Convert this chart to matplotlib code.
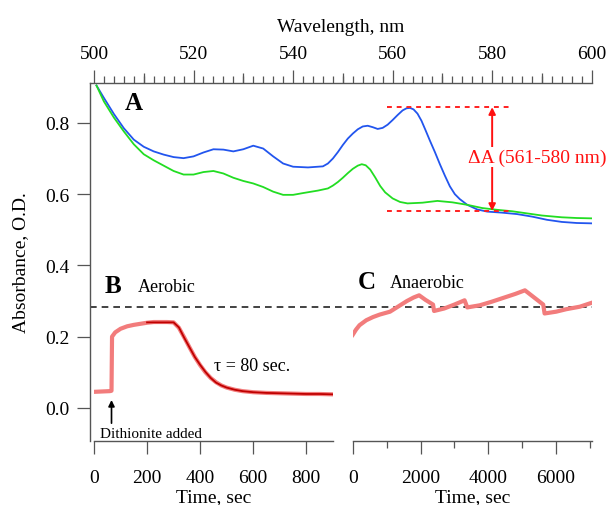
import matplotlib
matplotlib.use('Agg')
import matplotlib.pyplot as plt
from matplotlib.ticker import MultipleLocator, FixedLocator

plt.rcParams['font.family'] = ['Liberation Serif', 'DejaVu Serif']
plt.rcParams['font.size'] = 14

# 光譜 (Panel A)
wl_blue = [500.5, 502, 504, 506, 508, 510, 512, 514, 516, 518, 520, 522, 524, 526, 528, 530,
           532, 534, 536, 538, 540, 543, 546, 547, 548, 549, 550, 551, 552, 553, 554, 555, 556,
           557, 558, 559, 560, 561, 562, 562.8, 563.5, 564.2, 565, 565.8, 566.6, 567.5, 568.5,
           569.5, 570.5, 571.5, 572.5, 573.5, 575, 577, 579, 582, 585, 588, 591, 594, 597, 600]
abs_blue = [0.905, 0.870, 0.825, 0.785, 0.753, 0.733, 0.720, 0.711, 0.704, 0.701, 0.706, 0.717,
            0.726, 0.725, 0.720, 0.726, 0.736, 0.728, 0.706, 0.686, 0.677, 0.675, 0.678, 0.686,
            0.700, 0.718, 0.738, 0.756, 0.770, 0.782, 0.790, 0.792, 0.788, 0.783, 0.786, 0.795,
            0.808, 0.822, 0.835, 0.841, 0.842, 0.838, 0.826, 0.806, 0.780, 0.750, 0.718, 0.684,
            0.652, 0.622, 0.600, 0.586, 0.570, 0.557, 0.551, 0.548, 0.544, 0.537, 0.528, 0.522,
            0.519, 0.518]
wl_green = [500.5, 502, 504, 506, 508, 510, 512, 514, 516, 518, 520, 522, 524, 526, 528, 530,
            532, 534, 536, 538, 540, 542, 545, 547, 548, 549, 550, 551, 552, 553, 553.8, 554.6,
            555.5, 556.5, 557.5, 558.5, 560, 561.5, 563, 566, 569, 572, 575, 578, 581, 584, 587,
            590, 594, 597, 600]
abs_green = [0.905, 0.860, 0.815, 0.776, 0.740, 0.712, 0.695, 0.680, 0.665, 0.655, 0.655, 0.662,
             0.665, 0.658, 0.646, 0.637, 0.630, 0.620, 0.607, 0.598, 0.598, 0.603, 0.610, 0.616,
             0.624, 0.634, 0.646, 0.659, 0.671, 0.680, 0.684, 0.681, 0.669, 0.647, 0.623, 0.605,
             0.588, 0.578, 0.574, 0.576, 0.581, 0.577, 0.570, 0.561, 0.556, 0.552, 0.546, 0.540,
             0.535, 0.533, 0.532]

# ΔA 標示
dA_top = 0.844
dA_bottom = 0.553
dA_x = 580

# Panel B: 有氧
t_aer = [0, 30, 60, 66, 68, 80, 100, 125, 150, 175, 200, 225, 250, 275, 300, 320, 340, 360,
         380, 400, 420, 440, 460, 480, 500, 530, 560, 600, 650, 700, 750, 800, 850, 900]
a_aer = [0.045, 0.046, 0.047, 0.048, 0.200, 0.212, 0.222, 0.229, 0.233, 0.236, 0.239, 0.241,
         0.241, 0.241, 0.240, 0.225, 0.198, 0.170, 0.143, 0.120, 0.100, 0.084, 0.072, 0.063,
         0.057, 0.051, 0.047, 0.044, 0.042, 0.041, 0.040, 0.039, 0.039, 0.038]
t_fit = [200, 250, 300, 320, 340, 360, 380, 400, 420, 440, 460, 480, 500, 530, 560, 600, 650,
         700, 750, 800, 850, 900]
a_fit = [0.240, 0.240, 0.240, 0.226, 0.197, 0.170, 0.143, 0.121, 0.101, 0.084, 0.071, 0.063,
         0.057, 0.051, 0.047, 0.044, 0.042, 0.041, 0.040, 0.039, 0.039, 0.038]

# Panel C: 無氧
t_ana = [0, 100, 200, 400, 600, 800, 1100, 1300, 1600, 1800, 1960, 2150, 2370, 2400, 2700,
         3000, 3300, 3380, 3750, 4100, 4450, 4800, 5080, 5350, 5620, 5660, 6000, 6300, 6700,
         7050]
a_ana = [0.205, 0.220, 0.232, 0.246, 0.255, 0.262, 0.270, 0.282, 0.300, 0.310, 0.316, 0.303,
         0.290, 0.272, 0.279, 0.290, 0.302, 0.282, 0.288, 0.298, 0.309, 0.320, 0.330, 0.310,
         0.290, 0.265, 0.270, 0.277, 0.284, 0.295]

ref_level = 0.284

axis_col = '#555555'
trace_col = '#f27c7c'
fit_col = '#c00000'

W, H = 608, 506
fig = plt.figure(figsize=(W / 100, H / 100), dpi=100)

bottom = 1 - 442 / H
height = (442 - 84) / H
ylim = (-0.093, 0.912)

# 主圖
ax = fig.add_axes([90 / W, bottom, 501.7 / W, height])
ax.plot(wl_blue, abs_blue, color='#2255ee', lw=1.3)
ax.plot(wl_green, abs_green, color='#22dd22', lw=1.3)
ax.set_xlim(499.2, 600)
ax.set_ylim(*ylim)
for s in ['right', 'bottom']:
    ax.spines[s].set_visible(False)
for s in ['left', 'top']:
    ax.spines[s].set_color(axis_col)
    ax.spines[s].set_linewidth(1.0)
ax.xaxis.tick_top()
ax.xaxis.set_label_position('top')
ax.xaxis.set_major_locator(MultipleLocator(20))
ax.xaxis.set_minor_locator(MultipleLocator(2))
ax.tick_params(axis='x', which='major', direction='out', length=9.5, width=0.9, color=axis_col, pad=5.5)
ax.tick_params(axis='x', which='minor', direction='out', length=5, width=0.9, color=axis_col)
ax.set_xlabel('Wavelength, nm', labelpad=10.5)
ax.yaxis.set_major_locator(FixedLocator([0.0, 0.2, 0.4, 0.6, 0.8]))
ax.yaxis.set_major_formatter(matplotlib.ticker.FormatStrFormatter('%.1f'))
ax.tick_params(axis='y', direction='out', length=9.5, width=0.9, color=axis_col, pad=5.5)
ax.set_ylabel('Absorbance, O.D.', labelpad=11)

# 10 nm 中等刻度
sec = ax.secondary_xaxis('top')
sec.set_xticks([510, 530, 550, 570, 590])
sec.tick_params(length=7.5, width=0.9, color=axis_col, labeltop=False)
sec.spines['top'].set_visible(False)

ax.axhline(ref_level, color='#222222', lw=1.2, dashes=(4, 3))

# ΔA 紅色標示
ax.hlines([dA_top, dA_bottom], 558.8, 583.3, colors='#ff2020', lw=1.4, linestyles=(0, (2.5, 2.5)))
ax.annotate('', xy=(dA_x, dA_top), xytext=(dA_x, dA_bottom),
            arrowprops=dict(arrowstyle='<|-|>', color='#ff1010', lw=1.4, mutation_scale=10,
                            shrinkA=0, shrinkB=0))
ax.text(589, 0.704, 'ΔA (561-580 nm)', color='#ff1010', fontsize=14, ha='center', va='center',
        bbox=dict(facecolor='white', edgecolor='none', pad=1), clip_on=False)
ax.text(508, 0.856, 'A', fontsize=18, fontweight='bold', ha='center', va='center')

# Panel B
axb = fig.add_axes([94 / W, bottom, 238.7 / W, height])
axb.patch.set_visible(False)
axb.plot(t_aer, a_aer, color=trace_col, lw=3.0, solid_joinstyle='round')
axb.plot(t_fit, a_fit, color=fit_col, lw=1.3)
axb.set_xlim(0, 900)
axb.set_ylim(*ylim)
for s in ['left', 'right', 'top']:
    axb.spines[s].set_visible(False)
axb.spines['bottom'].set_color(axis_col)
axb.spines['bottom'].set_linewidth(1.0)
axb.set_yticks([])
axb.xaxis.set_major_locator(MultipleLocator(200))
axb.tick_params(axis='x', direction='out', length=9.5, width=0.9, color=axis_col, pad=11)
axb.set_xlabel('Time, sec', labelpad=1.5)
axb.text(71, 0.344, 'B', fontsize=18, fontweight='bold', ha='center', va='center')
axb.text(165, 0.342, 'Aerobic', fontsize=13, ha='left', va='center')
axb.text(454, 0.119, 'τ = 80 sec.', fontsize=13, ha='left', va='center')
axb.text(22, -0.072, 'Dithionite added', fontsize=11, ha='left', va='center')
axb.annotate('', xy=(66, 0.022), xytext=(66, -0.043),
             arrowprops=dict(arrowstyle='-|>', color='black', lw=1.2, mutation_scale=9,
                             shrinkA=0, shrinkB=0))

# Panel C
axc = fig.add_axes([352.7 / W, bottom, 239 / W, height])
axc.patch.set_visible(False)
axc.plot(t_ana, a_ana, color=trace_col, lw=3.0, solid_joinstyle='round')
axc.set_xlim(0, 7050)
axc.set_ylim(*ylim)
for s in ['left', 'right', 'top']:
    axc.spines[s].set_visible(False)
axc.spines['bottom'].set_color(axis_col)
axc.spines['bottom'].set_linewidth(1.0)
axc.set_yticks([])
axc.xaxis.set_major_locator(MultipleLocator(2000))
axc.xaxis.set_minor_locator(MultipleLocator(1000))
axc.tick_params(axis='x', which='major', direction='out', length=9.5, width=0.9, color=axis_col, pad=11)
axc.tick_params(axis='x', which='minor', direction='out', length=5, width=0.9, color=axis_col)
axc.set_xlabel('Time, sec', labelpad=1.5)
axc.text(405, 0.354, 'C', fontsize=18, fontweight='bold', ha='center', va='center')
axc.text(1094, 0.352, 'Anaerobic', fontsize=13, ha='left', va='center')

fig.savefig('out.png', dpi=100)
